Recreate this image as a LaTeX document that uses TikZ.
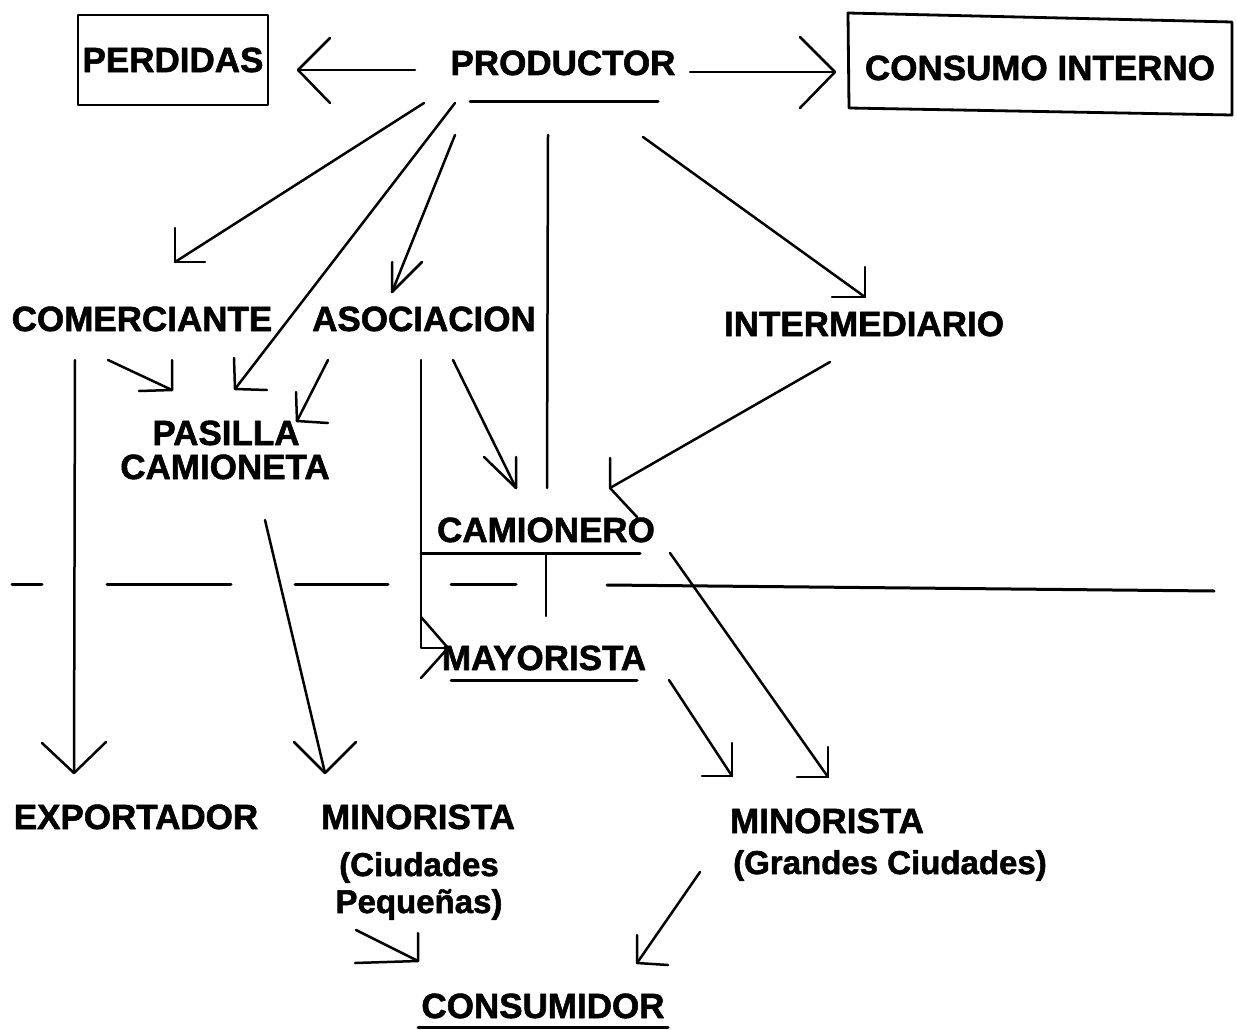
\documentclass[tikz,border=0pt]{standalone}
\usepackage{fontspec}
\setmainfont{Liberation Sans}[BoldFeatures={FakeBold=1.6}]
\begin{document}
\begin{tikzpicture}[x=1pt,y=-1pt,line cap=round,line join=round,
  lbl/.style={font=\fontsize{35}{35}\selectfont\bfseries,inner sep=0pt,anchor=base},
  txt/.style={font=\fontsize{33}{33}\selectfont\bfseries,inner sep=0pt,anchor=base},
  boxed/.style={draw,line width=2.8pt,font=\fontsize{35}{35}\selectfont\bfseries,inner sep=0pt},
  con/.style={line width=2.5pt},
  uline/.style={line width=3pt}]
\useasboundingbox (0,0) rectangle (1237,1030);
\fill[white] (0,0) rectangle (1237,1030);

% ---------- nodes ----------
\node[boxed,minimum width=190pt,minimum height=90pt] (perdidas) at (173,60) {PERDIDAS};
\node[lbl] (productor) at (563,75) {PRODUCTOR};
\node[lbl] (consumo) at (1040,80) {CONSUMO INTERNO};
\draw[line width=2.8pt] (848,13) -- (1232,22) -- (1232,115) -- (849,108) -- cycle;
\node[lbl] (comerciante) at (142,331) {COMERCIANTE};
\node[lbl] (asociacion) at (424,331) {ASOCIACION};
\node[lbl] (intermediario) at (864,336) {INTERMEDIARIO};
\node[lbl] (pasilla) at (226,445) {PASILLA};
\node[lbl] (camioneta) at (225,479) {CAMIONETA};
\node[lbl] (camionero) at (546,542) {CAMIONERO};
\node[lbl] (mayorista) at (544,670) {MAYORISTA};
\node[lbl] (exportador) at (136,829) {EXPORTADOR};
\node[lbl] (minp) at (418,829) {MINORISTA};
\node[txt] (minp2) at (419,876) {(Ciudades};
\node[txt] (minp3) at (419,913) {Pequeñas)};
\node[lbl] (ming) at (827,833) {MINORISTA};
\node[txt] (ming2) at (890,874) {(Grandes Ciudades)};
\node[lbl] (consumidor) at (543,1018) {CONSUMIDOR};

% ---------- underlines ----------
\draw[uline] (470,102) -- (658,102);
\draw[uline] (421,553) -- (640,553);
\draw[uline] (451,680) -- (637,680);
\draw[uline] (418,1027) -- (668,1027);

% ---------- dashed separator ----------
\draw[uline] (12,584) -- (42,584);
\draw[uline] (107,584) -- (231,584);
\draw[uline] (295,584) -- (388,584);
\draw[uline] (451,584) -- (516,584);
\draw[uline] (607,585) -- (1214,591);

% ---------- connector end points ----------
\coordinate (a1s) at (415,70);  \coordinate (a1t) at (298,70);
\coordinate (a2s) at (690,72);  \coordinate (a2t) at (835,72);
\coordinate (a3s) at (424,103); \coordinate (a3t) at (175,262);
\coordinate (a4s) at (455,103); \coordinate (a4t) at (235,389);
\coordinate (a5s) at (455,135); \coordinate (a5t) at (392,292);
\coordinate (l6s) at (548,135); \coordinate (l6t) at (547,488);
\coordinate (a7s) at (643,137); \coordinate (a7t) at (865,297);
\coordinate (a8s) at (75,360);  \coordinate (a8t) at (74,773);
\coordinate (a9s) at (108,360); \coordinate (a9t) at (172,390);
\coordinate (a10s) at (328,360); \coordinate (a10t) at (297,421);
\coordinate (a11s) at (421,360); \coordinate (a11c) at (421,648); \coordinate (a11t) at (448,648);
\coordinate (a12s) at (453,360); \coordinate (a12t) at (516,488);
\coordinate (a13s) at (830,362); \coordinate (a13t) at (610,488);
\coordinate (l14s) at (546,553); \coordinate (l14t) at (546,616);
\coordinate (a15s) at (265,520); \coordinate (a15t) at (325,773);
\coordinate (a16s) at (670,553); \coordinate (a16t) at (828,777);
\coordinate (a17s) at (669,680); \coordinate (a17t) at (732,776);
\coordinate (a18s) at (700,872); \coordinate (a18t) at (637,963);
\coordinate (a19s) at (356,930); \coordinate (a19t) at (418,961);

% ---------- connectors ----------
\draw[con] (a1s) -- (a1t);  \draw[con] (330,38) -- (a1t) -- (330,103);
\draw[con] (a2s) -- (a2t);  \draw[con] (800,37) -- (a2t) -- (800,108);
\draw[con] (a3s) -- (a3t);  \draw[con] (175,228) -- (a3t) -- (205,262);
\draw[con] (a4s) -- (a4t);  \draw[con] (234,358) -- (a4t) -- (267,390);
\draw[con] (a5s) -- (a5t);  \draw[con] (392,262) -- (a5t) -- (422,262);
\draw[con] (l6s) -- (l6t);
\draw[con] (a7s) -- (a7t);  \draw[con] (865,267) -- (a7t) -- (832,297);
\draw[con] (a8s) -- (a8t);  \draw[con] (42,743) -- (a8t) -- (106,742);
\draw[con] (a9s) -- (a9t);  \draw[con] (172,360) -- (a9t) -- (139,391);
\draw[con] (a10s) -- (a10t); \draw[con] (296,392) -- (a10t) -- (328,423);
\draw[con] (a11s) -- (a11c) -- (a11t); \draw[con] (421,617) -- (a11t) -- (421,678);
\draw[con] (a12s) -- (a12t); \draw[con] (516,457) -- (a12t) -- (484,457);
\draw[con] (a13s) -- (a13t); \draw[con] (610,458) -- (a13t) -- (637,517);
\draw[con] (l14s) -- (l14t);
\draw[con] (a15s) -- (a15t); \draw[con] (294,742) -- (a15t) -- (356,742);
\draw[con] (a16s) -- (a16t); \draw[con] (828,747) -- (a16t) -- (797,777);
\draw[con] (a17s) -- (a17t); \draw[con] (732,743) -- (a17t) -- (702,776);
\draw[con] (a18s) -- (a18t); \draw[con] (637,935) -- (a18t) -- (668,965);
\draw[con] (a19s) -- (a19t); \draw[con] (418,933) -- (a19t) -- (355,963);
\end{tikzpicture}
\end{document}
